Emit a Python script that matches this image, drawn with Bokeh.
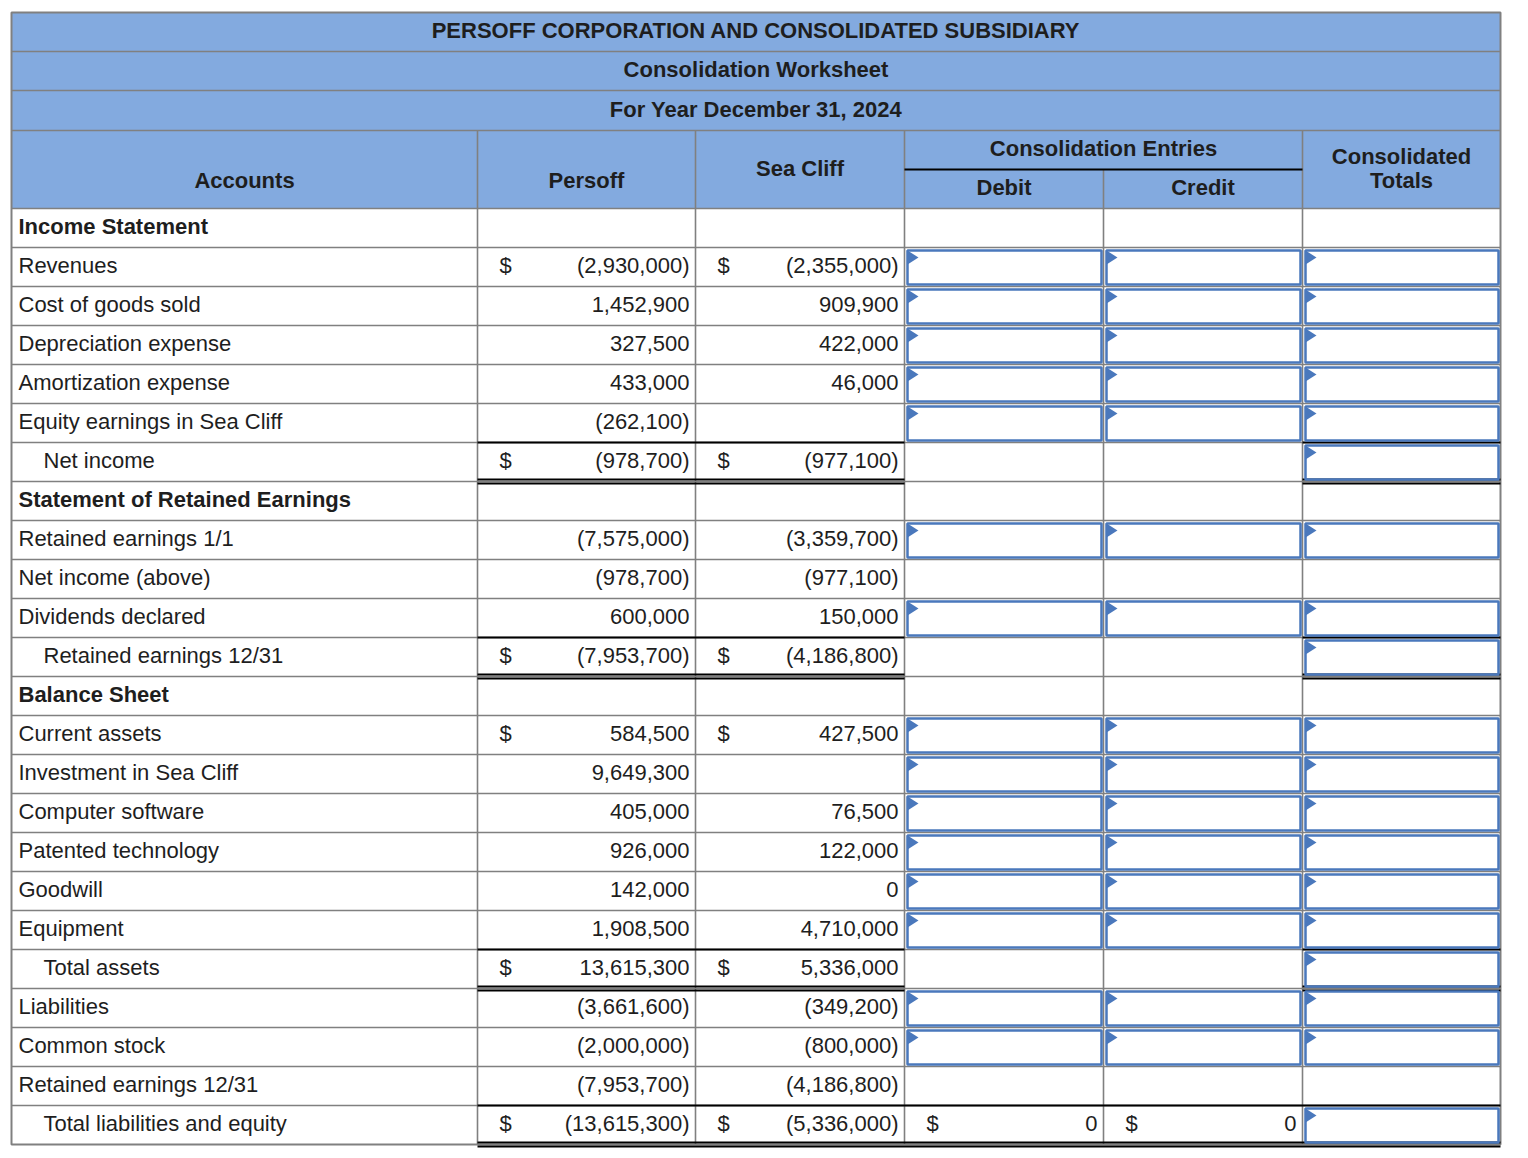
from bokeh.plotting import figure
from bokeh.models import Range1d
from bokeh.core.properties import value
from bokeh.embed import file_html
from bokeh.resources import INLINE

# ---------------- data ----------------
title_lines = ["PERSOFF CORPORATION AND CONSOLIDATED SUBSIDIARY",
               "Consolidation Worksheet",
               "For Year December 31, 2024"]

accounts = ["Income Statement", "Revenues", "Cost of goods sold", "Depreciation expense",
            "Amortization expense", "Equity earnings in Sea Cliff", "Net income",
            "Statement of Retained Earnings", "Retained earnings 1/1", "Net income (above)",
            "Dividends declared", "Retained earnings 12/31", "Balance Sheet", "Current assets",
            "Investment in Sea Cliff", "Computer software", "Patented technology", "Goodwill",
            "Equipment", "Total assets", "Liabilities", "Common stock", "Retained earnings 12/31",
            "Total liabilities and equity"]

# kind: S = section header, I = item, T = total (indented)
row_kind = ["S", "I", "I", "I", "I", "I", "T",
            "S", "I", "I", "I", "T",
            "S", "I", "I", "I", "I", "I", "I", "T", "I", "I", "I", "T"]

persoff = [None, -2930000, 1452900, 327500, 433000, -262100, -978700,
           None, -7575000, -978700, 600000, -7953700,
           None, 584500, 9649300, 405000, 926000, 142000, 1908500, 13615300,
           -3661600, -2000000, -7953700, -13615300]
sea_cliff = [None, -2355000, 909900, 422000, 46000, None, -977100,
             None, -3359700, -977100, 150000, -4186800,
             None, 427500, None, 76500, 122000, 0, 4710000, 5336000,
             -349200, -800000, -4186800, -5336000]
debit = [None] * 23 + [0]
credit = [None] * 23 + [0]

dollar_rows = [1, 6, 11, 13, 19, 23]
entry_input_rows = [1, 2, 3, 4, 5, 8, 10, 13, 14, 15, 16, 17, 18, 20, 21]
total_input_rows = sorted(entry_input_rows + [6, 11, 19, 23])
total_rows = [6, 11, 19, 23]
full_total_row = 23

# ---------------- layout ----------------
col_x = [11, 477, 695, 904, 1103, 1302, 1500]
head_y = [12, 51, 90, 130, 208]
row_h = 39
body_top = head_y[-1]
n_rows = len(accounts)
bottom = body_top + row_h * n_rows

GRAY = "#808080"
HEAD = "#83AADF"
BLUE = "#4A78BC"
TXT = "#1e1e1e"
FONT = value("Liberation Sans")
FS = "22px"
DY = -1.5  # vertical text nudge

p = figure(width=1512, height=1150, x_range=Range1d(0, 1512), y_range=Range1d(1150, 0),
           output_backend="svg", toolbar_location=None, min_border=0,
           x_axis_type=None, y_axis_type=None)
p.grid.visible = False
p.outline_line_color = None
p.background_fill_color = "white"
p.border_fill_color = "white"

# header fill
p.quad(left=[col_x[0]], right=[col_x[-1]], top=[head_y[0]], bottom=[head_y[-1]],
       fill_color=HEAD, line_color=None)

# gray grid
gx0, gy0, gx1, gy1 = [], [], [], []
for y in head_y[1:]:
    gx0.append(col_x[0]); gx1.append(col_x[-1]); gy0.append(y); gy1.append(y)
for k in range(1, n_rows):
    y = body_top + row_h * k
    gx0.append(col_x[0]); gx1.append(col_x[-1]); gy0.append(y); gy1.append(y)
for x in [col_x[1], col_x[2], col_x[3], col_x[5]]:
    gx0.append(x); gx1.append(x); gy0.append(head_y[3]); gy1.append(bottom)
sub_y = (head_y[3] + head_y[4]) / 2
gx0.append(col_x[4]); gx1.append(col_x[4]); gy0.append(sub_y); gy1.append(bottom)
p.segment(x0=gx0, y0=gy0, x1=gx1, y1=gy1, line_color=GRAY, line_width=1.6)
# outer border
p.quad(left=[col_x[0]], right=[col_x[-1]], top=[head_y[0]], bottom=[bottom],
       fill_color=None, line_color=GRAY, line_width=2)
# consolidation entries underline
p.segment(x0=[col_x[3]], y0=[sub_y], x1=[col_x[5]], y1=[sub_y], line_color="black", line_width=2)

# total underlines (single above, double below)
bx0, by0, bx1, by1 = [], [], [], []
for r in total_rows:
    t = body_top + row_h * r
    b = t + row_h
    spans = [(col_x[1], col_x[-1])] if r == full_total_row else [(col_x[1], col_x[3]), (col_x[5], col_x[6])]
    for (a, c) in spans:
        for y in (t, b - 2, b + 2):
            bx0.append(a); bx1.append(c); by0.append(y); by1.append(y)
p.segment(x0=bx0, y0=by0, x1=bx1, y1=by1, line_color="black", line_width=1.8)

# input boxes
ql, qr, qt, qb = [], [], [], []
tri_x, tri_y = [], []
def add_box(ci, r):
    l = col_x[ci] + 3
    rr = col_x[ci + 1] - 2
    t = body_top + row_h * r + 3
    b = body_top + row_h * (r + 1) - 2
    ql.append(l); qr.append(rr); qt.append(t); qb.append(b)
    tri_x.append([l, l + 11, l])
    tri_y.append([t, t + 7, t + 14])
for r in entry_input_rows:
    add_box(3, r)
    add_box(4, r)
for r in total_input_rows:
    add_box(5, r)
p.quad(left=ql, right=qr, top=qt, bottom=qb, fill_color=None, line_color=BLUE, line_width=2.5)
p.patches(xs=tri_x, ys=tri_y, fill_color=BLUE, line_color=None)

# ---------------- text ----------------
def fmt(v):
    if v is None:
        return ""
    return f"({-v:,})" if v < 0 else f"{v:,}"

def put(x, y, t, align="left", bold=False):
    p.text(x=[x], y=[y + DY], text=[t], text_align=align, text_baseline="middle",
           text_font=FONT, text_font_size=FS, text_color=TXT,
           text_font_style="bold" if bold else "normal")

# titles
cx = (col_x[0] + col_x[-1]) / 2
for i, t in enumerate(title_lines):
    put(cx, (head_y[i] + head_y[i + 1]) / 2, t, "center", True)

put((col_x[0] + col_x[1]) / 2, 181, "Accounts", "center", True)
put((col_x[1] + col_x[2]) / 2, 181, "Persoff", "center", True)
put((col_x[2] + col_x[3]) / 2, 169, "Sea Cliff", "center", True)
put((col_x[3] + col_x[5]) / 2, 149, "Consolidation Entries", "center", True)
put((col_x[3] + col_x[4]) / 2, 188, "Debit", "center", True)
put((col_x[4] + col_x[5]) / 2, 188, "Credit", "center", True)
put((col_x[5] + col_x[6]) / 2, 157, "Consolidated", "center", True)
put((col_x[5] + col_x[6]) / 2, 181, "Totals", "center", True)

for r, name in enumerate(accounts):
    ym = body_top + row_h * r + row_h / 2
    kind = row_kind[r]
    put(col_x[0] + 7 if kind != "T" else col_x[0] + 32, ym, name, "left", kind == "S")
    for ci, series in ((1, persoff), (2, sea_cliff), (3, debit), (4, credit)):
        s = fmt(series[r])
        if s:
            put(col_x[ci + 1] - 6, ym, s, "right")
    if r in dollar_rows:
        put(col_x[1] + 22, ym, "$")
        put(col_x[2] + 22, ym, "$")
    if debit[r] is not None:
        put(col_x[3] + 22, ym, "$")
    if credit[r] is not None:
        put(col_x[4] + 22, ym, "$")

open("out.html", "w").write(file_html(p, INLINE))
